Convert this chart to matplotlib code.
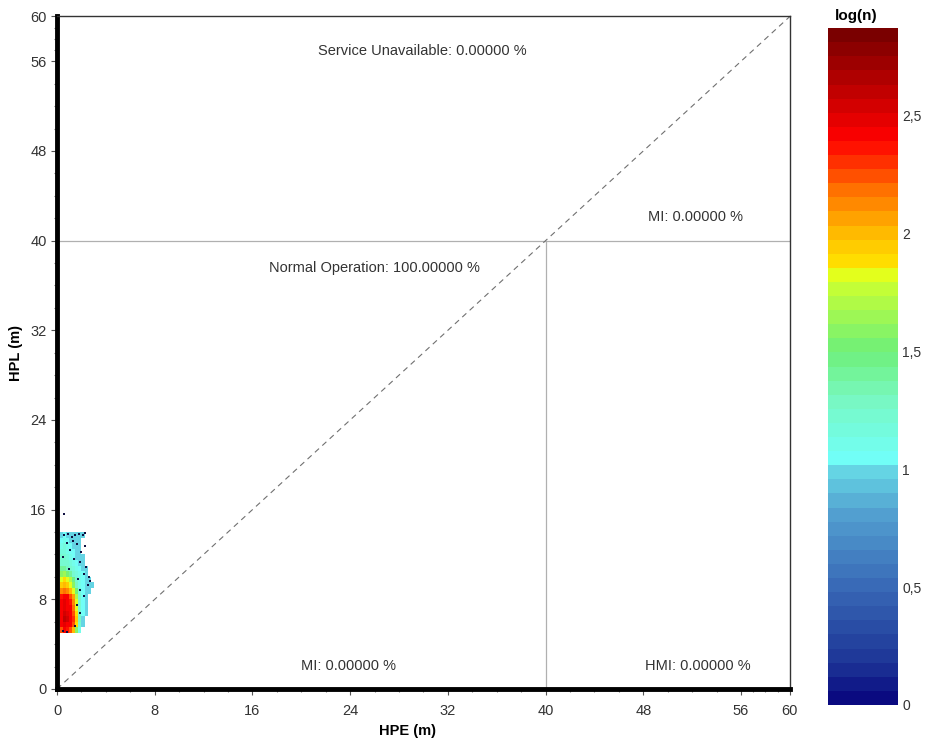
import numpy as np
import matplotlib.pyplot as plt
from matplotlib.colors import LinearSegmentedColormap
from matplotlib.ticker import FixedLocator

plt.rcParams['font.family'] = ['Liberation Sans', 'DejaVu Sans']

# bins del histograma 2D (HPE en x, HPL en y)
x_edges = np.arange(0, 3.01, 0.25)
y_edges = np.arange(5, 14.01, 0.5)
nan = np.nan

# log(n) por celda, fila de abajo (HPL 5.0) hacia arriba (HPL 13.5)
log_n = [
    [nan, 2.25, 2.4, 2.35, 2.25, 2.0, 1.6, 1.1, nan, nan, nan, nan],
    [nan, 2.4, 2.5, 2.45, 2.4, 2.25, 1.9, 1.2, 1.0, nan, nan, nan],
    [nan, 2.45, 2.6, 2.55, 2.45, 2.3, 1.95, 1.3, 1.0, nan, nan, nan],
    [nan, 2.45, 2.55, 2.5, 2.4, 2.25, 1.9, 1.3, 1.05, 1.0, nan, nan],
    [nan, 2.4, 2.5, 2.45, 2.4, 2.2, 1.85, 1.25, 1.05, 1.0, nan, nan],
    [nan, 2.4, 2.5, 2.45, 2.35, 2.15, 1.8, 1.2, 1.05, 1.0, nan, nan],
    [nan, 2.35, 2.45, 2.4, 2.25, 2.05, 1.7, 1.2, 1.05, 1.0, nan, nan],
    [nan, 2.15, 2.2, 2.15, 2.0, 1.8, 1.5, 1.15, 1.05, 1.0, 1.0, nan],
    [nan, 1.95, 2.0, 1.95, 1.85, 1.6, 1.3, 1.1, 1.05, 1.0, 1.0, 1.0],
    [nan, 1.85, 1.9, 1.85, 1.7, 1.45, 1.2, 1.1, 1.05, 1.0, 1.0, nan],
    [nan, 1.6, 1.65, 1.55, 1.4, 1.25, 1.15, 1.1, 1.05, 1.0, nan, nan],
    [nan, 1.4, 1.4, 1.3, 1.2, 1.15, 1.1, 1.05, 1.0, 1.0, nan, nan],
    [nan, 1.25, 1.25, 1.2, 1.15, 1.1, 1.05, 1.0, 1.0, nan, nan, nan],
    [nan, 1.2, 1.2, 1.15, 1.1, 1.05, 1.0, 1.0, 1.0, nan, nan, nan],
    [nan, 1.15, 1.15, 1.1, 1.05, 1.05, 1.0, 1.0, nan, nan, nan, nan],
    [nan, 1.1, 1.15, 1.1, 1.05, 1.0, 1.0, 1.0, nan, nan, nan, nan],
    [nan, 1.05, 1.1, 1.05, 1.0, 1.0, 1.0, 1.0, nan, nan, nan, nan],
    [nan, 1.0, 1.05, 1.0, 1.0, 1.0, 1.0, 1.0, 1.0, nan, nan, nan],
]
# celdas aisladas con n = 1 (log(n) = 0)
single_hpe = [0.6, 0.9, 1.2, 1.5, 1.8, 2.1, 2.3, 0.8, 1.6, 1.1, 2.0, 0.5, 1.4,
              1.9, 2.4, 1.0, 2.2, 2.6, 1.7, 2.5, 2.7, 1.9, 2.2, 1.6, 1.9, 1.5,
              0.8, 0.5, 2.3, 1.3, 0.6]
single_hpl = [13.7, 13.8, 13.6, 13.7, 13.8, 13.7, 13.9, 13.0, 12.9, 12.4, 12.2,
              11.8, 11.6, 11.3, 10.9, 10.7, 10.3, 10.0, 9.8, 9.3, 9.6, 8.8, 8.3,
              7.5, 6.8, 5.6, 5.1, 5.2, 12.8, 13.2, 15.6]

alert_limit = 40
max_val = 60
vmax = 2.87

major_ticks = [0, 8, 16, 24, 32, 40, 48, 56, 60]
minor_ticks = [t for t in range(2, 56, 2) if t % 8 != 0] + [57, 58, 59]
cbar_ticks = [0, 0.5, 1, 1.5, 2, 2.5]
cbar_labels = ["0", "0,5", "1", "1,5", "2", "2,5"]

labels = [
    ("Service Unavailable: 0.00000 %", 29.9, 56.9),
    ("MI: 0.00000 %", 52.3, 42.1),
    ("Normal Operation: 100.00000 %", 26.0, 37.6),
    ("MI: 0.00000 %", 23.9, 2.05),
    ("HMI: 0.00000 %", 52.5, 2.05),
]

# paleta tipo jet suavizada, como la del programa original
nodes = [(0.0, '#0a0a80'), (0.15, '#1c3496'), (0.5, '#3a6cb8'), (0.8, '#52a0d0'),
         (0.99, '#66d8e6'), (1.0, '#70ffff'), (1.3, '#78f8c0'), (1.5, '#6ef07a'),
         (1.8, '#ccff30'), (1.85, '#f0ff10'), (1.88, '#ffe000'), (2.0, '#ffc000'),
         (2.2, '#ff7000'), (2.35, '#ff2000'), (2.42, '#ff0000'), (2.6, '#c80000'),
         (2.87, '#7a0000')]
cmap = LinearSegmentedColormap.from_list('logn', [(v / vmax, c) for v, c in nodes], N=48)

fig = plt.figure(figsize=(9.26, 7.41), dpi=100)
ax = fig.add_axes([0.0616, 0.0702, 0.7914, 0.9076])
cax = fig.add_axes([0.894, 0.0486, 0.0756, 0.9134])

grid = np.ma.masked_invalid(np.array(log_n))
mesh = ax.pcolormesh(x_edges, y_edges, grid, cmap=cmap, vmin=0, vmax=vmax)
ax.scatter(single_hpe, single_hpl, s=3, color='#101040', marker='s', linewidths=0)

# lineas de limite de alerta y diagonal
ax.plot([0, max_val], [alert_limit, alert_limit], color='#b0b0b0', lw=0.9)
ax.plot([alert_limit, alert_limit], [0, alert_limit], color='#b0b0b0', lw=0.9)
ax.plot([0, max_val], [0, max_val], color='#707070', lw=0.8, ls=(0, (5, 4)))

for txt, x, y in labels:
    ax.text(x, y, txt, ha='center', va='center', fontsize=10.5, color='#333333')

ax.set_xlim(0, max_val)
ax.set_ylim(0, max_val)
ax.xaxis.set_major_locator(FixedLocator(major_ticks))
ax.yaxis.set_major_locator(FixedLocator(major_ticks))
ax.xaxis.set_minor_locator(FixedLocator(minor_ticks))
ax.yaxis.set_minor_locator(FixedLocator(minor_ticks))
ax.tick_params(which='major', length=4, width=0.8, colors='#555555', labelsize=10.5,
               labelcolor='#333333')
ax.tick_params(which='minor', length=2.5, width=0.8, colors='#777777')
ax.tick_params(axis='x', which='major', pad=7)

ax.spines['left'].set_linewidth(3.5)
ax.spines['bottom'].set_linewidth(3.5)
ax.spines['top'].set_linewidth(1.0)
ax.spines['right'].set_linewidth(1.0)
ax.spines['top'].set_color('#333333')
ax.spines['right'].set_color('#333333')

ax.set_xlabel("HPE (m)", fontsize=10.5, fontweight='bold', labelpad=1)
ax.xaxis.set_label_coords(0.478, -0.052)
ax.set_ylabel("HPL (m)", fontsize=10.5, fontweight='bold', labelpad=5)

cb = fig.colorbar(mesh, cax=cax)
cb.outline.set_visible(False)
cb.set_ticks(cbar_ticks)
cb.set_ticklabels(cbar_labels)
cax.tick_params(length=0, labelsize=10, labelcolor='#333333', pad=3)
cax.text(0.4, 1.008, "log(n)", transform=cax.transAxes, ha='center', va='bottom',
         fontsize=11, fontweight='bold')

fig.savefig("out.png", dpi=100)
